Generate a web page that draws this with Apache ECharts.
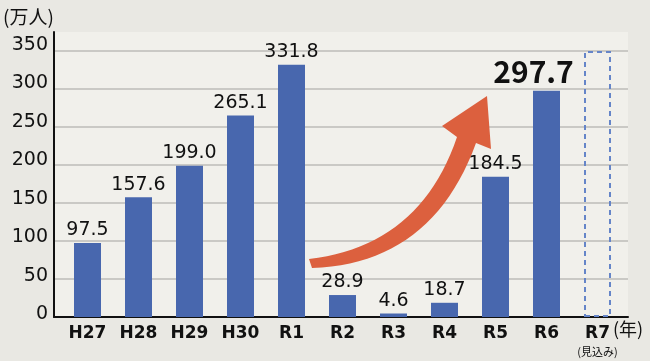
<!DOCTYPE html>
<html>
<head>
<meta charset="utf-8">
<script src="https://cdn.jsdelivr.net/npm/echarts@6/dist/echarts.min.js"></script>
<style>
  html, body { margin: 0; padding: 0; background: #e9e8e3; }
  #chart { width: 650px; height: 361px; }
</style>
</head>
<body>
<div id="chart"></div>
<script>
  // 年度ごとの来訪者数（万人）
  const categories = ["H27", "H28", "H29", "H30", "R1", "R2", "R3", "R4", "R5", "R6", "R7"];
  const visitors = [97.5, 157.6, 199.0, 265.1, 331.8, 28.9, 4.6, 18.7, 184.5, 297.7, null];
  const forecastIndex = 10;   // R7 (見込み)
  const forecastValue = 350;  // 点線の枠
  const highlightIndex = 9;   // R6 強調
  const yTicks = [0, 50, 100, 150, 200, 250, 300, 350];

  const font = "'Noto Sans CJK JP', 'Noto Sans', sans-serif";
  const numFont = "'DejaVu Sans', sans-serif";
  const barColor = "#4867ae";

  // 二次ベジェ曲線を点列にする（矢印の胴体用）
  function quad(p0, c, p1, n) {
    let pts = [];
    for (let k = 0; k <= n; k++) {
      let t = k / n, u = 1 - t;
      pts.push([u * u * p0[0] + 2 * u * t * c[0] + t * t * p1[0],
                u * u * p0[1] + 2 * u * t * c[1] + t * t * p1[1]]);
    }
    return pts;
  }
  let arrowPts = []
    .concat(quad([309, 259], [420, 246], [457, 137], 24))
    .concat([[442, 126], [487, 96], [491, 149], [476, 143]])
    .concat(quad([476, 143], [432, 264], [312, 268], 24));

  let chart = echarts.init(document.getElementById("chart"));

  let barData = categories.map(function (c, i) {
    if (i === forecastIndex) {
      return {
        value: forecastValue,
        itemStyle: {
          color: "rgba(0,0,0,0)",
          borderColor: "#6585c8",
          borderWidth: 2,
          borderType: [5, 4]
        },
        label: { show: false }
      };
    }
    if (i === highlightIndex) {
      return {
        value: visitors[i],
        label: { fontFamily: font, fontSize: 30, fontWeight: "bold", offset: [-13, -1] }
      };
    }
    return visitors[i];
  });

  let option = {
    backgroundColor: "#e9e8e3",
    animation: false,
    grid: [
      // 背景と軸線
      { left: 54, right: 22, top: 32, bottom: 44, show: true, backgroundColor: "#f1f0eb", borderWidth: 0 },
      // 目盛線
      { left: 54, right: 22, top: 51, bottom: 44 },
      // 棒
      { left: 62, right: 27, top: 51, bottom: 44 },
      // 目盛ラベル（原図では少し上にずれている）
      { left: 54, right: 22, top: 45, bottom: 47 }
    ],
    xAxis: [
      {
        gridIndex: 0, type: "category", data: categories, z: 3,
        axisLine: { lineStyle: { color: "#111", width: 2 } },
        axisTick: { show: false }, axisLabel: { show: false }
      },
      { gridIndex: 1, type: "category", data: categories, show: false },
      {
        gridIndex: 2, type: "category", data: categories,
        axisLine: { show: false }, axisTick: { show: false },
        axisLabel: {
          interval: 0, margin: 7,
          fontFamily: numFont, fontSize: 17, fontWeight: "bold", color: "#111",
          lineHeight: 20,
          formatter: function (v, i) {
            return i === forecastIndex ? v + "\n{s|(見込み)}" : v;
          },
          rich: { s: { fontFamily: font, fontSize: 11, fontWeight: "normal", color: "#111", lineHeight: 15 } }
        }
      },
      { gridIndex: 3, type: "category", data: categories, show: false }
    ],
    yAxis: [
      {
        gridIndex: 0, type: "value", min: 0, max: 375, interval: 50, z: 3,
        axisLine: { show: true, lineStyle: { color: "#111", width: 2 } },
        axisTick: { show: false }, splitLine: { show: false }, axisLabel: { show: false }
      },
      {
        gridIndex: 1, type: "value", min: 0, max: 350, interval: 50, z: 1,
        axisLine: { show: false }, axisTick: { show: false }, axisLabel: { show: false },
        splitLine: { lineStyle: { color: "#bdbdb8", width: 1.5 } }
      },
      { gridIndex: 2, type: "value", min: 0, max: 350, interval: 50, show: false, splitLine: { show: false } },
      {
        gridIndex: 3, type: "value", min: 0, max: 350, interval: 50,
        axisLine: { show: false }, axisTick: { show: false }, splitLine: { show: false },
        axisLabel: {
          margin: 6, fontFamily: numFont, fontSize: 19, color: "#111",
          formatter: function (v) { return yTicks.indexOf(v) >= 0 ? String(v) : ""; }
        }
      }
    ],
    series: [
      {
        type: "bar",
        xAxisIndex: 2, yAxisIndex: 2,
        barWidth: 27,
        itemStyle: { color: barColor },
        data: barData,
        z: 4,
        label: {
          show: true, position: "top", distance: 3,
          fontFamily: numFont, fontSize: 19, color: "#111",
          formatter: function (p) { return p.value == null ? "" : Number(p.value).toFixed(1); }
        }
      }
    ],
    graphic: [
      {
        type: "text", left: 3, top: 7, z: 10,
        style: { text: "(万人)", font: "19px " + font, fill: "#111" }
      },
      {
        type: "text", left: 613, top: 320, z: 10,
        style: { text: "(年)", font: "18px " + font, fill: "#111" }
      },
      {
        // 増加を示す矢印
        type: "polygon", z: 8,
        shape: { points: arrowPts },
        style: { fill: "#dc603e" }
      }
    ]
  };

  chart.setOption(option);
</script>
</body>
</html>
